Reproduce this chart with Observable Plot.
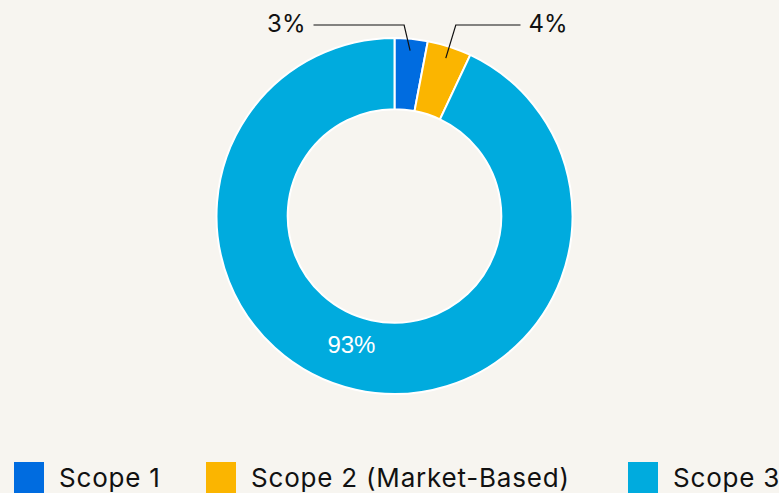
<!DOCTYPE html>
<html>
<head>
<meta charset="utf-8">
<script src="https://cdn.jsdelivr.net/npm/d3@7"></script>
<script src="https://cdn.jsdelivr.net/npm/@observablehq/plot@0.6"></script>
<style>
  html, body { margin: 0; padding: 0; background: #f7f5f0; overflow: hidden; }
  body { width: 779px; height: 493px; font-family: Inter, "Open Sans", sans-serif; position: relative; }
  #legend { position: absolute; left: 0; top: 462px; width: 779px; height: 40px; white-space: nowrap; }
  .item { position: absolute; top: 0; display: flex; align-items: center; }
  .sw { width: 30px; height: 31px; margin-right: 15px; flex: none; }
  .lb { font-size: 26px; color: #111; letter-spacing: 0.8px; }
</style>
</head>
<body>
<div id="chart"></div>
<div id="legend"></div>
<script>
const categories = ["Scope 1", "Scope 2 (Market-Based)", "Scope 3"];
const shares = [3, 4, 93];
const labels = ["3%", "4%", "93%"];
const colors = ["#006ce0", "#fbb500", "#00abde"];

const data = categories.map((c, i) => ({category: c, share: shares[i], label: labels[i], color: colors[i]}));

function donut(index, scales, values, dimensions) {
  const {width, height, marginTop, marginRight, marginBottom, marginLeft} = dimensions;
  const cx = (marginLeft + width - marginRight) / 2;
  const cy = (marginTop + height - marginBottom) / 2;
  const R = (height - marginTop - marginBottom) / 2;
  const r = R * 0.6;
  const pie = d3.pie().value(d => d.share).sort(null)(data);
  const arc = d3.arc().innerRadius(r).outerRadius(R);
  const g = d3.create("svg:g");
  const gc = g.append("g").attr("transform", `translate(${cx},${cy})`);
  gc.selectAll("path").data(pie).join("path")
    .attr("d", arc)
    .attr("fill", d => d.data.color)
    .attr("stroke", "#ffffff")
    .attr("stroke-width", 2)
    .attr("stroke-linejoin", "round");
  let side = -1;
  for (const p of pie) {
    const mid = (p.startAngle + p.endAngle) / 2;
    if (p.data.share >= 10) {
      const [x, y] = arc.centroid(p);
      gc.append("text").attr("x", x - 12).attr("y", y - 8)
        .attr("text-anchor", "middle").attr("dominant-baseline", "middle")
        .attr("fill", "#ffffff").attr("font-size", 24)
        .attr("font-family", "'Liberation Sans', Arial, sans-serif")
        .text(p.data.label);
    } else {
      const ri = R - 12;
      const x0 = Math.sin(mid) * ri, y0 = -Math.cos(mid) * ri;
      const ex = x0 + (side < 0 ? -6 : 10), ey = -R - 13;
      const lx = side < 0 ? -81 : 126;
      gc.append("path")
        .attr("d", `M${x0},${y0}L${ex},${ey}L${lx},${ey}`)
        .attr("fill", "none").attr("stroke", "#111").attr("stroke-width", 1.2);
      gc.append("text").attr("x", lx + side * 8).attr("y", ey)
        .attr("text-anchor", side < 0 ? "end" : "start")
        .attr("dominant-baseline", "middle")
        .attr("fill", "#111").attr("font-size", 24)
        .attr("font-family", "Inter, sans-serif")
        .text(p.data.label);
      side = -side;
    }
  }
  return g.node();
}

const plot = Plot.plot({
  width: 779,
  height: 450,
  marginTop: 38,
  marginBottom: 56,
  marginLeft: 10,
  marginRight: 0,
  style: {background: "transparent"},
  marks: [donut]
});
document.getElementById("chart").appendChild(plot);

const legendLeft = [14, 206, 628];
const legend = document.getElementById("legend");
categories.forEach((c, i) => {
  const it = document.createElement("div");
  it.className = "item";
  it.style.left = legendLeft[i] + "px";
  it.innerHTML = `<div class="sw" style="background:${colors[i]}"></div><span class="lb">${c}</span>`;
  legend.appendChild(it);
});
</script>
</body>
</html>
